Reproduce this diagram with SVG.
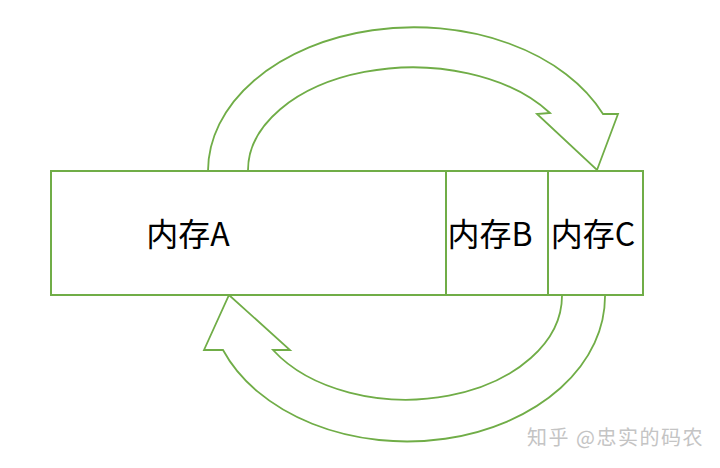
<svg xmlns="http://www.w3.org/2000/svg" width="720" height="468" viewBox="0 0 720 468">
<style>
.g{fill:none;stroke:#70ad47;stroke-width:1.8;stroke-linejoin:miter}
.box{fill:#ffffff;stroke:#70ad47;stroke-width:2}
.t{font-family:"Noto Sans CJK SC","Noto Sans",sans-serif;font-size:32px;fill:#000}
.wm{font-family:"Noto Sans CJK SC","Noto Sans",sans-serif;font-size:20px;letter-spacing:1.5px;fill:#c4c4c4}
</style>
<rect width="720" height="468" fill="#ffffff"/>
<g id="connectors">
<path id="arrow-top" class="g" d="M208,171 A206,144 0 0,1 603,114 L618,114 L597,170 L537,114 L550,113 A165,103 0 0,0 248,171"/>
<path id="arrow-bottom" class="g" d="M605,295 A198,145 0 0,1 223,350 L204,350 L229,295 L290,350 L273,350 A156,104 0 0,0 562,295"/>
</g>
<g id="memA">
<rect class="box" x="51" y="171" width="395" height="124"/>
<text class="t" x="188" y="246" text-anchor="middle">内存A</text>
</g>
<g id="memB">
<rect class="box" x="446" y="171" width="102" height="124"/>
<text class="t" x="490" y="246" text-anchor="middle">内存B</text>
</g>
<g id="memC">
<rect class="box" x="548" y="171" width="95" height="124"/>
<text class="t" x="593" y="246" text-anchor="middle">内存C</text>
</g>
<text class="wm" x="527" y="445">知乎 @忠实的码农</text>
</svg>
